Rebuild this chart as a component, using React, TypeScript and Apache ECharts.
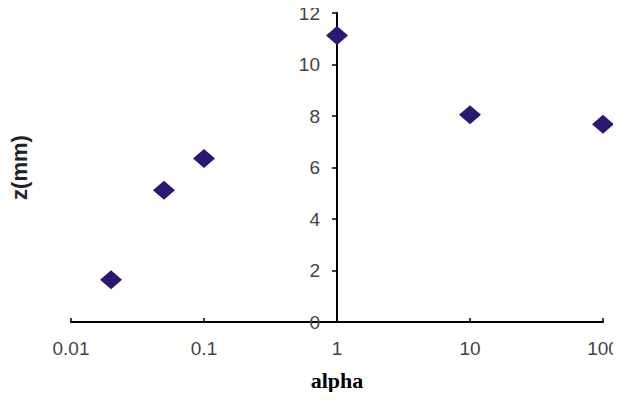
import React, { useEffect, useRef } from "react";
import * as echarts from "echarts";

const alphaValues = [0.02, 0.05, 0.1, 1, 10, 100];
const zValues = [1.64, 5.12, 6.35, 11.13, 8.05, 7.68];
const xTickLabels = ["0.01", "0.1", "1", "10", "100"];

export default function App() {
  const ref = useRef<HTMLDivElement>(null);
  useEffect(() => {
    if (!ref.current) return;
    const chart = echarts.init(ref.current, null, { renderer: "svg" });
    const data = alphaValues.map((a, i) => [a, zValues[i]]);
    chart.setOption({
      animation: false,
      backgroundColor: "#ffffff",
      grid: { left: 71, right: 18, top: 13, bottom: 78, outerBoundsMode: "none", containLabel: false },
      xAxis: {
        type: "log",
        logBase: 10,
        min: 0.01,
        max: 100,
        name: "alpha",
        nameLocation: "middle",
        nameGap: 47,
        nameTextStyle: {
          fontFamily: "'Liberation Serif', 'Times New Roman', serif",
          fontWeight: "bold",
          fontSize: 22,
          color: "#000",
        },
        axisLine: { onZero: false, lineStyle: { color: "#000", width: 2 } },
        axisTick: { inside: true, length: 4, lineStyle: { color: "#000", width: 1.5 } },
        splitLine: { show: false },
        minorTick: { show: false },
        axisLabel: {
          margin: 17,
          fontFamily: "'Liberation Sans', Arial, sans-serif",
          fontSize: 19,
          color: "#444",
          formatter: (v: number) => {
            const s = xTickLabels.find((t) => Math.abs(parseFloat(t) - v) < v * 1e-6);
            return s ?? String(v);
          },
        },
      },
      yAxis: {
        type: "value",
        min: 0,
        max: 12,
        interval: 2,
        position: "left",
        offset: -266,
        name: "z(mm)",
        nameLocation: "middle",
        nameGap: 307,
        nameRotate: 90,
        nameTextStyle: {
          fontFamily: "'Liberation Sans', Arial, sans-serif",
          fontWeight: "bold",
          fontSize: 22,
          color: "#222",
        },
        axisLine: { show: true, onZero: false, lineStyle: { color: "#000", width: 2 } },
        axisTick: { show: true, length: 5, lineStyle: { color: "#000", width: 1.5 } },
        splitLine: { show: false },
        axisLabel: {
          margin: 17,
          fontFamily: "'Liberation Sans', Arial, sans-serif",
          fontSize: 19,
          color: "#444",
        },
      },
      series: [
        {
          type: "scatter",
          data,
          symbol: "diamond",
          symbolSize: [22, 19],
          itemStyle: { color: "#261a73", opacity: 1 },
        },
      ],
    });
    return () => chart.dispose();
  }, []);
  return <div ref={ref} style={{ width: 621, height: 400, margin: -8 }} />;
}
